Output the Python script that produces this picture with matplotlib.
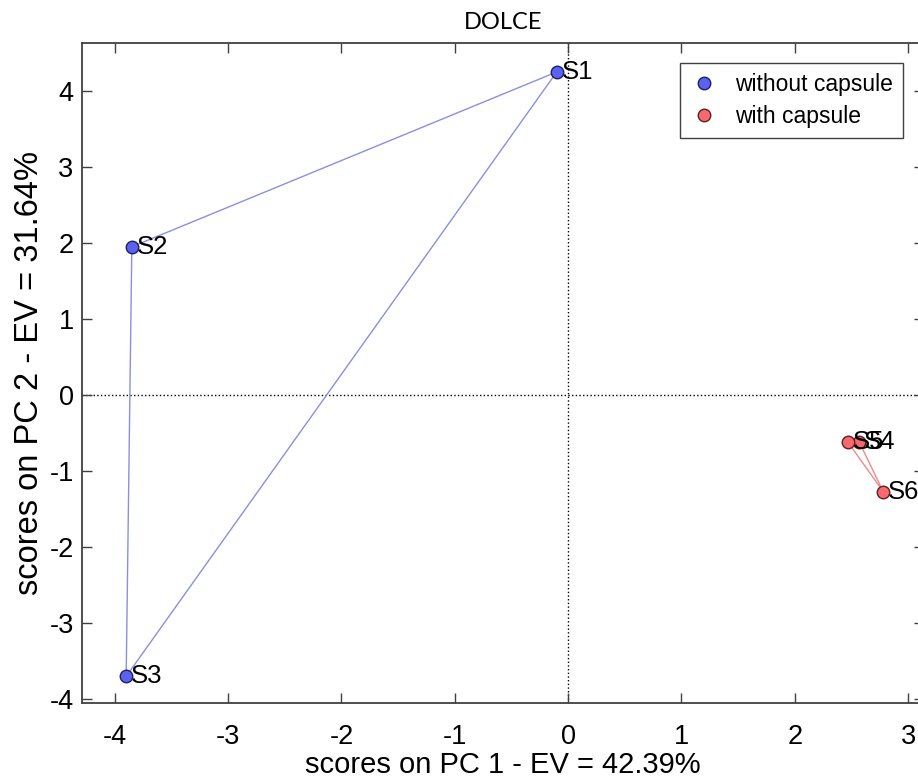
import numpy as np
import matplotlib
matplotlib.use("Agg")
import matplotlib.pyplot as plt

# sample scores
names_wo = ["S1", "S2", "S3"]
pc1_wo = [-0.10, -3.85, -3.90]
pc2_wo = [4.25, 1.95, -3.70]

names_w = ["S4", "S5", "S6"]
pc1_w = [2.57, 2.47, 2.78]
pc2_w = [-0.62, -0.62, -1.27]

xticks = [-4, -3, -2, -1, 0, 1, 2, 3]
yticks = [-4, -3, -2, -1, 0, 1, 2, 3, 4]

plt.rcParams['font.family'] = ['Liberation Sans', 'DejaVu Sans']
plt.rcParams['axes.unicode_minus'] = False

fig = plt.figure(figsize=(9.18, 7.82), dpi=100)
# axes run a little past the right edge of the figure, as in the reference crop
ax = fig.add_axes([0.0893, 0.101, 0.9172, 0.844])

blue = '#5b62f0'
red = '#f46a6e'

ax.plot(pc1_wo + pc1_wo[:1], pc2_wo + pc2_wo[:1], '-', color='#8a8fe0', lw=1.0, zorder=2)
ax.plot(pc1_w + pc1_w[:1], pc2_w + pc2_w[:1], '-', color='#f08a8c', lw=1.0, zorder=2)

ax.plot(pc1_wo, pc2_wo, 'o', ms=9, mfc=blue, mec='#202060', mew=1.0, ls='none',
        label='without capsule', zorder=3)
ax.plot(pc1_w, pc2_w, 'o', ms=9, mfc=red, mec='#602020', mew=1.0, ls='none',
        label='with capsule', zorder=3)

for n, x, y in zip(names_wo + names_w, pc1_wo + pc1_w, pc2_wo + pc2_w):
    ax.annotate(n, (x, y), xytext=(3.5, 0), textcoords='offset points',
                va='center', ha='left', fontsize=18.5)

ax.axhline(0, color='k', ls=':', lw=1.0, zorder=1)
ax.axvline(0, color='k', ls=':', lw=1.0, zorder=1)

ax.set_xlim(-4.29, 3.14)
ax.set_ylim(-4.05, 4.63)
ax.set_xticks(xticks)
ax.set_yticks(yticks)
ax.tick_params(direction='in', top=True, right=True, labelsize=19.5, length=7,
               width=1.0, color='#404040')
ax.tick_params(axis='x', pad=15)
ax.tick_params(axis='y', pad=6)
for s in ax.spines.values():
    s.set_color('#404040')
    s.set_linewidth(1.3)

ax.set_xlabel('scores on PC 1 - EV = 42.39%', fontsize=21, labelpad=1)
ax.set_ylabel('scores on PC 2 - EV = 31.64%', fontsize=23.5, labelpad=3)
ax.set_title('DOLCE', fontsize=17, family=['Lato', 'DejaVu Sans'], pad=10)

leg = ax.legend(loc='upper left', bbox_to_anchor=(0.710, 0.970), borderaxespad=0,
                fontsize=16.5, frameon=True, fancybox=False, edgecolor='#404040',
                handletextpad=0.75, borderpad=0.45, labelspacing=0.38, handlelength=1.2,
                framealpha=1)
leg.get_frame().set_linewidth(1.0)

fig.savefig('out.png', dpi=100)
